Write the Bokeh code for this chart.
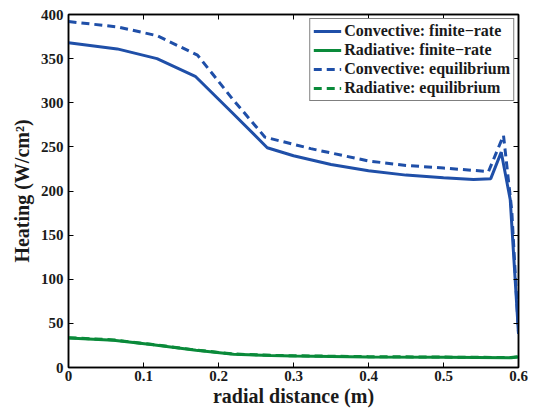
from bokeh.plotting import figure
from bokeh.models import Range1d, LinearAxis, FixedTicker, Legend, LegendItem
from bokeh.embed import file_html
from bokeh.resources import INLINE

# Data
x_conv_fr = [0.0, 0.065, 0.118, 0.169, 0.218, 0.265, 0.3, 0.35, 0.4, 0.45, 0.5, 0.54, 0.563, 0.577, 0.589, 0.6]
y_conv_fr = [368, 361, 350, 330, 289, 249, 240, 230, 223, 218, 215, 213, 214, 244, 190, 38]

x_conv_eq = [0.0, 0.065, 0.118, 0.172, 0.218, 0.262, 0.323, 0.4, 0.45, 0.5, 0.56, 0.58, 0.591, 0.6]
y_conv_eq = [392, 386, 376, 354, 305, 261, 248, 234, 229, 226, 222, 263, 178, 40]

x_rad_fr = [0.0, 0.06, 0.11, 0.17, 0.22, 0.27, 0.3, 0.4, 0.5, 0.59, 0.6]
y_rad_fr = [33.5, 31, 26, 19.5, 15, 13.5, 13, 12, 11.5, 11, 12]

x_rad_eq = [0.0, 0.06, 0.11, 0.17, 0.22, 0.27, 0.3, 0.4, 0.5, 0.59, 0.6]
y_rad_eq = [33.8, 31.3, 26.3, 19.8, 15.3, 13.8, 13.3, 12.3, 11.8, 11.3, 12.3]

x_ticks = [0, 0.1, 0.2, 0.3, 0.4, 0.5, 0.6]
y_ticks = [0, 50, 100, 150, 200, 250, 300, 350, 400]

BLUE = "#1F4FA8"
GREEN = "#0A8A3A"
FONT = "Liberation Serif"

p = figure(width=533, height=411, output_backend="svg", toolbar_location=None,
           x_range=Range1d(0, 0.6), y_range=Range1d(0, 400),
           min_border_left=68, min_border_right=15, min_border_top=14, min_border_bottom=44)
p.xgrid.visible = False
p.ygrid.visible = False
p.outline_line_color = "black"
p.outline_line_width = 1.5
p.background_fill_color = "white"
p.border_fill_color = "white"

for ax in (p.xaxis[0], p.yaxis[0]):
    ax.major_tick_in = 5
    ax.major_tick_out = 0
    ax.minor_tick_in = 0
    ax.minor_tick_out = 0
    ax.axis_line_color = "black"
    ax.axis_line_width = 1.5
    ax.major_tick_line_width = 1
    ax.major_label_text_font = FONT
    ax.major_label_text_font_style = "bold"
    ax.major_label_text_font_size = "15px"
    ax.major_label_text_color = "#1a1a1a"
    ax.axis_label_text_font = FONT
    ax.axis_label_text_font_style = "bold"
    ax.axis_label_text_font_size = "20px"
    ax.axis_label_text_color = "#1a1a1a"

p.xaxis[0].ticker = FixedTicker(ticks=x_ticks)
p.yaxis[0].ticker = FixedTicker(ticks=y_ticks)
p.xaxis[0].major_label_overrides = {0: "0", 0.6: "0.6"}
p.xaxis[0].axis_label = "radial distance (m)"
p.yaxis[0].axis_label = "Heating (W/cm²)"
p.xaxis[0].major_label_standoff = 3
p.yaxis[0].major_label_standoff = 5
p.xaxis[0].axis_label_standoff = 1
p.yaxis[0].axis_label_standoff = 5

top = LinearAxis(ticker=FixedTicker(ticks=x_ticks),
                 major_label_overrides={t: "" for t in x_ticks},
                 major_tick_in=5, major_tick_out=0, minor_tick_in=0, minor_tick_out=0,
                 axis_line_width=1.5, major_label_standoff=0)
right = LinearAxis(ticker=FixedTicker(ticks=y_ticks),
                   major_label_overrides={t: "" for t in y_ticks},
                   major_tick_in=5, major_tick_out=0, minor_tick_in=0, minor_tick_out=0,
                   axis_line_width=1.5, major_label_standoff=0)
p.add_layout(top, "above")
p.add_layout(right, "right")

r1 = p.line(x_conv_fr, y_conv_fr, line_color=BLUE, line_width=3)
r2 = p.line(x_rad_fr, y_rad_fr, line_color=GREEN, line_width=3)
r3 = p.line(x_conv_eq, y_conv_eq, line_color=BLUE, line_width=3, line_dash="8 5")
r4 = p.line(x_rad_eq, y_rad_eq, line_color=GREEN, line_width=3, line_dash="8 5")

legend = Legend(items=[
    LegendItem(label="Convective: finite\u2212rate", renderers=[r1]),
    LegendItem(label="Radiative: finite\u2212rate", renderers=[r2]),
    LegendItem(label="Convective: equilibrium", renderers=[r3]),
    LegendItem(label="Radiative: equilibrium", renderers=[r4]),
], location="top_right")
legend.label_text_font = FONT
legend.label_text_font_style = "bold"
legend.label_text_font_size = "16px"
legend.label_text_color = "#1a1a1a"
legend.border_line_color = "black"
legend.border_line_width = 1.2
legend.margin = 4
legend.padding = 3
legend.spacing = 1
legend.label_height = 18
legend.glyph_height = 18
legend.glyph_width = 28
legend.label_standoff = 3
legend.background_fill_alpha = 1.0
p.add_layout(legend)

open("out.html", "w").write(file_html(p, INLINE))
